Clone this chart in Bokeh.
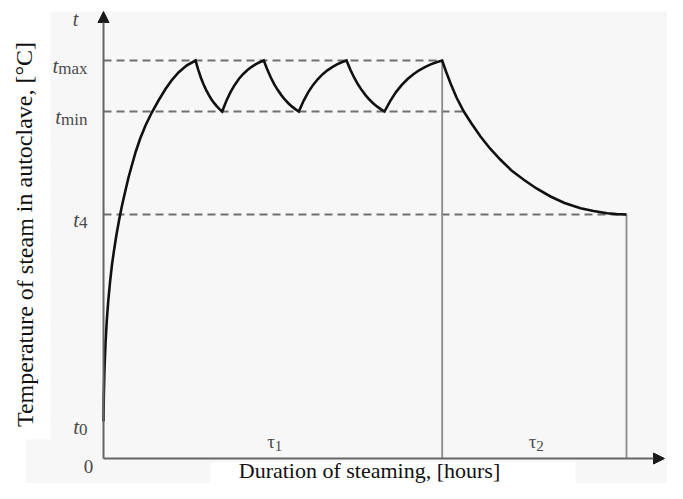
from bokeh.plotting import figure
from bokeh.models import Arrow, NormalHead, BoxAnnotation
from bokeh.core.properties import value
from bokeh.embed import file_html
from bokeh.resources import INLINE

# ---------------- data (schematic units: x = time, y = temperature) ----------------
level_names = ["0", "4", "min", "max"]          # subscripts of t
level_values = [37, 244, 347, 398]               # t0, t4, t_min, t_max
t0, t4, t_min, t_max = level_values

# heating up from t0 to t_max
heat_x = [0, 0.3, 1, 2, 3.3, 4.8, 6.7, 8.5, 10.5, 13, 15.7, 18.5, 21.7, 25, 28.3,
          32.3, 36.7, 42, 48.3, 55, 61.7, 68, 75, 83, 92]
heat_y = [37, 62, 90, 115, 138, 158, 178, 194, 208, 224, 239, 253, 267, 281, 293,
          307, 320, 333, 346, 358, 369, 378, 386, 393, 398]

# oscillation between t_max and t_min (drop, rise, drop, rise, drop, rise)
cycle_x = [92, 94.7, 97.3, 100.0, 102.7, 105.4, 108.0, 110.7, 113.4, 116.0, 118.7,
           122.9, 127.0, 131.2, 135.3, 139.5, 143.7, 147.8, 152.0, 156.1, 160.3,
           163.8, 167.3, 170.8, 174.3, 177.8, 181.3, 184.8, 188.3, 191.8, 195.3,
           200.1, 204.8, 209.6, 214.4, 219.2, 223.9, 228.7, 233.5, 238.2, 243.0,
           246.8, 250.6, 254.4, 258.2, 262.0, 265.8, 269.6, 273.4, 277.2, 281.0,
           286.8, 292.5, 298.3, 304.1, 309.9, 315.6, 321.4, 327.2, 332.9, 338.7]
cycle_y = [398, 388.9, 381.0, 374.2, 368.4, 363.4, 359.0, 355.3, 352.1, 349.4, 347,
           357.7, 366.4, 373.6, 379.5, 384.3, 388.2, 391.4, 394.1, 396.2, 398,
           388.9, 381.0, 374.2, 368.4, 363.4, 359.0, 355.3, 352.1, 349.4, 347,
           357.7, 366.4, 373.6, 379.5, 384.3, 388.2, 391.4, 394.1, 396.2, 398,
           388.9, 381.0, 374.2, 368.4, 363.4, 359.0, 355.3, 352.1, 349.4, 347,
           357.7, 366.4, 373.6, 379.5, 384.3, 388.2, 391.4, 394.1, 396.2, 398]

# cooling down from t_max to t4
cool_x = [338.7, 342.5, 347, 353, 360.3, 368, 377, 386.5, 397, 408, 420.3, 433,
          447, 461, 477, 490, 503.7, 513, 523]
cool_y = [398, 387, 375.3, 361, 347, 335, 322, 310, 298.7, 288, 278.7, 270,
          262, 255.5, 250.3, 247.5, 245.3, 244.4, 244]

period_names = ["1", "2"]                        # tau subscripts
period_bounds = [0, 338.7, 523]                  # start, end of tau1, end of tau2

y_title = "Temperature of steam in autoclave, [°C]"
x_title = "Duration of steaming, [hours]"

# ---------------- figure ----------------
SERIF = value("Liberation Serif")
W, H = 667, 483
X0, Y1 = -103, 458
p = figure(width=W, height=H, x_range=(X0, X0 + W), y_range=(Y1 - H, Y1),
           x_axis_type=None, y_axis_type=None, toolbar_location=None,
           output_backend="svg", min_border=0, outline_line_color=None,
           background_fill_color="white", border_fill_color="white")
p.grid.visible = False

PANEL = "#f7f7f7"
p.add_layout(BoxAnnotation(left=-53, right=600, bottom=-40, top=447,
                           fill_color=PANEL, fill_alpha=1, line_color=None, level="underlay"))
p.add_layout(BoxAnnotation(left=-78, right=-53, bottom=-40, top=19,
                           fill_color=PANEL, fill_alpha=1, line_color=None, level="underlay"))
p.add_layout(BoxAnnotation(left=107, right=472, bottom=-40, top=-4,
                           fill_color="white", fill_alpha=1, line_color=None, level="underlay"))

# dashed reference levels (t_min line runs until the cooling curve crosses it)
cross_x = next(x for x, y in zip(cool_x, cool_y) if y <= t_min)
p.segment(x0=[0, 0, 0], y0=[t_min, t_max, t4],
          x1=[cross_x, period_bounds[1], period_bounds[2]], y1=[t_min, t_max, t4],
          line_color="#707070", line_width=2, line_dash="8 5")

# period boundaries
p.segment(x0=period_bounds[1:], y0=[0, 0], x1=period_bounds[1:], y1=[t_max, t4],
          line_color="#8a8a8a", line_width=1.8)

# axes with arrows
head_kw = dict(size=11, fill_color="#1a1a1a", line_color="#1a1a1a")
p.add_layout(Arrow(x_start=0, y_start=0, x_end=0, y_end=447,
                   end=NormalHead(**head_kw), line_color="#666666", line_width=2))
p.add_layout(Arrow(x_start=0, y_start=0, x_end=561, y_end=0,
                   end=NormalHead(**head_kw), line_color="#666666", line_width=2))

# temperature curve
curve_x = heat_x + cycle_x[1:] + cool_x[1:]
curve_y = heat_y + cycle_y[1:] + cool_y[1:]
p.line(curve_x, curve_y, line_color="#111111", line_width=2.6, line_join="miter")

# level labels: italic t + subscript
sub_w = {"m": 0.778, "a": 0.444, "x": 0.5, "i": 0.278, "n": 0.5}
SUB_SIZE = 17
joins = [-16 - sum(sub_w.get(c, 0.5) for c in s) * SUB_SIZE for s in level_names]
p.text(x=[0] * 4, y=level_values, text=level_names, x_offset=-16, y_offset=8,
       text_align="right", text_baseline="alphabetic", text_font=SERIF,
       text_font_size=f"{SUB_SIZE}px", text_color="#4a4a4a")
p.text(x=[0] * 4, y=level_values, text=["t"] * 4, x_offset=joins, y_offset=5,
       text_align="right", text_baseline="alphabetic", text_font=SERIF,
       text_font_style="italic", text_font_size="21px", text_color="#4a4a4a")

# axis end labels
p.text(x=[0], y=[447], text=["t"], x_offset=-28, y_offset=7, text_align="center",
       text_baseline="alphabetic", text_font=SERIF, text_font_style="italic",
       text_font_size="20px", text_color="#4a4a4a")
p.text(x=[0], y=[0], text=["0"], x_offset=-15, y_offset=8, text_align="center",
       text_baseline="alphabetic", text_font=SERIF, text_font_size="19px",
       text_color="#4a4a4a")

# period labels
mids = [(a + b) / 2 for a, b in zip(period_bounds[:-1], period_bounds[1:])]
p.text(x=mids, y=[0, 0], text=["τ", "τ"], x_offset=2, y_offset=-17, text_align="right",
       text_baseline="alphabetic", text_font=SERIF, text_font_size="19px",
       text_color="#4a4a4a")
p.text(x=mids, y=[0, 0], text=period_names, x_offset=2, y_offset=-13, text_align="left",
       text_baseline="alphabetic", text_font=SERIF, text_font_size="15px",
       text_color="#4a4a4a")

# titles
p.text(x=[-79], y=[224], text=[y_title], angle=1.5708, text_align="center",
       text_baseline="middle", text_font=SERIF, text_font_size="24px", text_color="#111111")
p.text(x=[266], y=[0], y_offset=24, text=[x_title], text_align="center",
       text_baseline="bottom", text_font=SERIF, text_font_size="22px",
       text_color="#111111")

open("out.html", "w").write(file_html(p, INLINE))
